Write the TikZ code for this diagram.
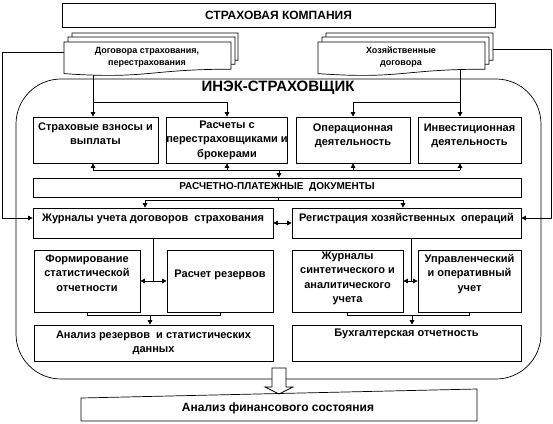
\documentclass[tikz,border=0pt]{standalone}
\usepackage{fontspec}
\setmainfont{Liberation Sans}
\usetikzlibrary{arrows.meta}

\newcommand{\boxfont}{\fontsize{11}{14.5}\selectfont\bfseries}
\newcommand{\capfont}{\fontsize{10}{12}\selectfont\bfseries}
\newcommand{\docfont}{\fontsize{9}{12}\selectfont\bfseries}
% one page of the contract stack: x, y of top left, width, height
\newcommand{\docpage}[4]{%
  \filldraw[fill=white] (#1,#2) -- ({#1+#3},#2) -- ({#1+#3},{#2+0.8*#4})
    .. controls ({#1+0.5*#3},{#2+0.8*#4}) and ({#1+0.5*#3},{#2+1.1*#4}) .. (#1,{#2+0.93*#4}) -- cycle;}

\tikzset{
  box/.style={draw, fill=white, inner sep=0pt, align=center, font=\boxfont},
  arr/.style={-{Triangle[length=4.5pt,width=4.5pt]}},
  dbl/.style={{Triangle[length=4.5pt,width=4.5pt]}-{Triangle[length=4.5pt,width=4.5pt]}},
}

\begin{document}
\begin{tikzpicture}[x=1pt,y=-1pt,line width=0.7pt]
  \useasboundingbox (0,0) rectangle (553,423);

  \node[box, minimum width=433pt, minimum height=24pt, font=\fontsize{12}{14}\selectfont\bfseries]
    (kompania) at (278.5,15) {СТРАХОВАЯ КОМПАНИЯ};

  % ИНЭК
  \draw[rounded corners=45pt] (16,79) rectangle (541,379);
  \node[font=\fontsize{15}{17}\selectfont\bfseries] (inek) at (278,88) {ИНЭК-СТРАХОВЩИК};

  % договора
  \docpage{72}{33}{166}{34}
  \docpage{68}{37}{167}{34}
  \docpage{64}{42}{167}{34}
  \node[font=\docfont, align=center] (ldoc) at (147,57) {Договора страхования,\\перестрахования};
  \docpage{326}{33}{167}{34}
  \docpage{322}{37}{167}{34}
  \docpage{318}{42}{167}{34}
  \node[font=\docfont, align=center] (rdoc) at (401,57) {Хозяйственные\\договора};

  \node[box, minimum width=125pt, text height=27.5pt, text depth=18.5pt] (vznosy) at (95.5,140)
    {Страховые взносы и\\выплаты};
  \node[box, minimum width=120pt, text height=40pt, text depth=6pt] (reinsur) at (227,140)
    {Расчеты с\\перестраховщиками и\\брокерами};
  \node[box, minimum width=114pt, text height=28.5pt, text depth=17.5pt] (operac) at (353,140)
    {Операционная\\деятельность};
  \node[box, minimum width=103pt, text height=28.5pt, text depth=17.5pt] (invest) at (469.5,140)
    {Инвестиционная\\деятельность};

  \node[box, minimum width=488pt, minimum height=19pt, font=\capfont] (platezh) at (277,187.5)
    {РАСЧЕТНО-ПЛАТЕЖНЫЕ\ \ ДОКУМЕНТЫ};

  \node[box, minimum width=240pt, text height=13pt, text depth=17pt] (zhurnal) at (153,223)
    {Журналы учета договоров\ \ страхования};
  \node[box, minimum width=229pt, text height=13pt, text depth=17pt] (registr) at (406.5,223)
    {Регистрация хозяйственных\ \ операций};

  \node[box, minimum width=106pt, text height=41pt, text depth=21pt] (formir) at (87,281)
    {Формирование\\статистической\\отчетности};
  \node[box, minimum width=106pt, text height=27pt, text depth=35pt] (rezerv) at (220,281)
    {Расчет резервов};
  \node[box, minimum width=111pt, text height=52.5pt, text depth=9.5pt] (sintet) at (347.5,281)
    {Журналы\\синтетического и\\аналитического\\учета};
  \node[box, minimum width=103pt, text height=41pt, text depth=21pt] (upravl) at (469.5,281)
    {Управленческий\\и оперативный\\учет};

  \node[box, minimum width=239pt, text height=27.5pt, text depth=8.5pt] (analiz) at (153.5,343)
    {Анализ резервов\ \ и статистических\\данных};
  \node[box, minimum width=229pt, text height=11pt, text depth=25pt] (buhotch) at (406.5,343)
    {Бухгалтерская отчетность};

  % выход
  \filldraw[fill=white] (272,368) -- (286,368) -- (286,387) -- (293,387) -- (279,394)
    -- (265,387) -- (272,387) -- cycle;
  \draw (81,398) -- (477,389) -- (477,421) -- (81,421) -- cycle;
  \node[font=\fontsize{12}{14}\selectfont\bfseries] (finans) at (278,408) {Анализ финансового состояния};

  % связи
  \coordinate (ldocL) at (64,52);
  \coordinate (ldocB) at (93,75);
  \coordinate (lbus) at (93,102);
  \coordinate (rdocR) at (493,49);
  \coordinate (rdocB) at (460,70);
  \coordinate (rbus) at (460,102);
  \draw[arr] (ldocL) -- (2,52) |- ([yshift=5pt]zhurnal.west);
  \draw[arr] (rdocR) -- (551,49) |- ([yshift=5pt]registr.east);
  \draw[arr] (ldocB) -- (vznosy.north -| ldocB);
  \draw[arr] (lbus) -| (reinsur.north);
  \draw[arr] (rdocB) -- (invest.north -| rdocB);
  \draw[arr] (rbus) -| (operac.north);

  \coordinate (ubus) at (279,170);
  \draw (lbus |- ubus) -- (rbus |- ubus);
  \draw[arr] (lbus |- ubus) -- (vznosy.south -| lbus);
  \draw[arr] (reinsur.south |- ubus) -- (reinsur.south);
  \draw[arr] (operac.south |- ubus) -- (operac.south);
  \draw[arr] (rbus |- ubus) -- (invest.south -| rbus);
  \draw[arr] (ubus) -- (platezh.north -| ubus);

  \coordinate (dbus) at (278,200);
  \coordinate (jin) at (145,200);
  \coordinate (rin) at (403,200);
  \draw (platezh.south -| dbus) -- (dbus);
  \draw (jin) -- (rin);
  \draw[arr] (jin) -- (zhurnal.north -| jin);
  \draw[arr] (rin) -- (registr.north -| rin);
  \draw[dbl] (zhurnal.east) -- (registr.west);

  \draw (zhurnal.south) -- (zhurnal.south |- formir.east);
  \draw[dbl] (formir.east) -- (rezerv.west);
  \coordinate (rfork) at (411,281);
  \draw (registr.south -| rfork) -- (rfork);
  \draw[dbl] (sintet.east) -- (upravl.west);

  \draw (formir.south) -- ++(0,3) -| (rezerv.south);
  \coordinate (lsum) at (150,315);
  \draw[arr] (lsum) -- (analiz.north -| lsum);
  \draw (sintet.south) -- ++(0,3) -| (upravl.south);
  \coordinate (rsum) at (412,315);
  \draw[arr] (rsum) -- (buhotch.north -| rsum);
\end{tikzpicture}
\end{document}
